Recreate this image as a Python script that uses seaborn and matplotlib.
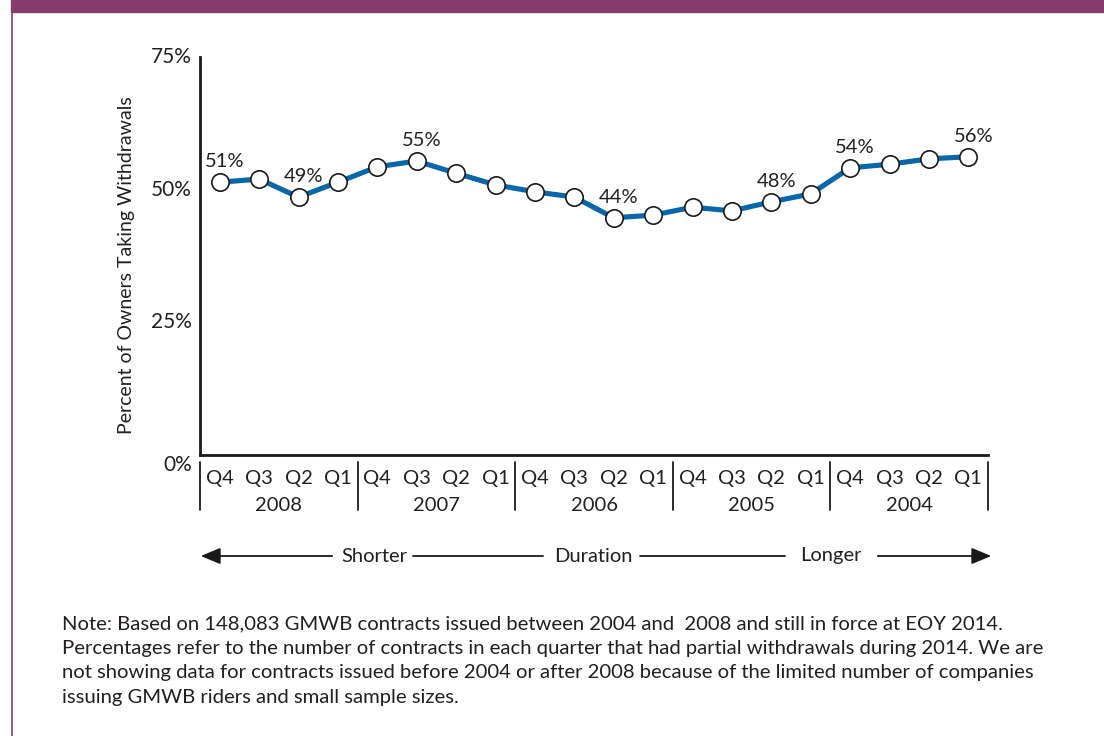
import matplotlib
matplotlib.use("Agg")
import matplotlib.pyplot as plt
import seaborn as sns
import pandas as pd
import numpy as np

# ---- data ----
quarters = ["Q4", "Q3", "Q2", "Q1"] * 5
years = ["2008", "2007", "2006", "2005", "2004"]
values = [51.4, 52.0, 48.6, 51.4, 54.3, 55.4, 53.1, 50.9, 49.6, 48.6,
          44.7, 45.2, 46.7, 46.0, 47.7, 49.2, 54.1, 54.8, 55.8, 56.2]
point_labels = {0: "51%", 2: "49%", 5: "55%", 10: "44%", 14: "48%", 16: "54%", 19: "56%"}
y_ticks = [0, 25, 50, 75]
y_tick_labels = ["0%", "25%", "50%", "75%"]
note = ("Note: Based on 148,083 GMWB contracts issued between 2004 and  2008 and still in force at EOY 2014.\n"
        "Percentages refer to the number of contracts in each quarter that had partial withdrawals during 2014. We are\n"
        "not showing data for contracts issued before 2004 or after 2008 because of the limited number of companies\n"
        "issuing GMWB riders and small sample sizes.")

sns.set_style("white")
FONT = ["Lato", "DejaVu Sans"]
plt.rcParams["font.family"] = FONT
TXT = "#231f20"
LINE = "#0767aa"
PURPLE = "#873d6c"

W, H = 1104, 736
fig = plt.figure(figsize=(W / 100, H / 100), dpi=100)
def fx(px): return px / W
def fy(py): return 1 - py / H

ax = fig.add_axes([fx(200), fy(455), fx(988) - fx(200), fy(57) - fy(455)])

df = pd.DataFrame({"idx": np.arange(len(values)), "val": values})
sns.lineplot(data=df, x="idx", y="val", ax=ax, color=LINE, linewidth=3.7,
             marker="o", markersize=12.5, markerfacecolor="white",
             markeredgecolor="#1a1a1a", markeredgewidth=1.2, zorder=3)

for i, lab in point_labels.items():
    ax.annotate(lab, (i, values[i]), xytext=(5, 12), textcoords="offset pixels",
                ha="center", va="bottom", fontsize=14.5, color=TXT)

ax.set_xlim(-0.5, len(values) - 0.5)
ax.set_ylim(0, 75)
ax.set_xlabel("")
ax.set_ylabel("Percent of Owners Taking Withdrawals", fontsize=14, color=TXT)
ax.yaxis.set_label_coords(-0.082, 0.477)

for s in ["top", "right"]:
    ax.spines[s].set_visible(False)
for s in ["left", "bottom"]:
    ax.spines[s].set_color("#1a1a1a")
    ax.spines[s].set_linewidth(2)

ax.set_yticks(y_ticks)
ax.set_yticklabels(y_tick_labels, fontsize=15, color=TXT)
ax.tick_params(axis="y", direction="in", length=10, width=1.5, color="#1a1a1a", pad=6)
for t in ax.get_yticklabels():
    t.set_verticalalignment("center")
ax.get_yticklabels()[0].set_verticalalignment("top")

ax.set_xticks(np.arange(len(values)))
ax.set_xticklabels(quarters, fontsize=14.5, color=TXT)
ax.tick_params(axis="x", which="major", length=0, pad=11)
ax.set_xticks(np.arange(len(values) + 1) - 0.5, minor=True)
ax.tick_params(axis="x", which="minor", direction="in", length=9, width=1.3, color="#1a1a1a")

trans = ax.get_xaxis_transform()
for k, yr in enumerate(years):
    ax.text(4 * k + 1.5, -0.128, yr, transform=trans, ha="center", va="center",
            fontsize=14.5, color=TXT)
for k in range(len(years) + 1):
    ax.plot([4 * k - 0.5, 4 * k - 0.5], [-0.0176, -0.138], transform=trans,
            color="#1a1a1a", lw=1.3, clip_on=False)

# duration arrow row
ay = fy(556)
fig.text(fx(374), ay, "Shorter", ha="center", va="center", fontsize=14.5, color=TXT)
fig.text(fx(593), ay, "Duration", ha="center", va="center", fontsize=14.5, color=TXT)
fig.text(fx(831), ay, "Longer", ha="center", va="center", fontsize=14.5, color=TXT)
fig.patches.append(matplotlib.patches.FancyArrowPatch(
    (fx(335), ay), (fx(198), ay), transform=fig.transFigure,
    arrowstyle="-|>,head_length=12,head_width=5", mutation_scale=1, color="#1a1a1a", lw=1.3))
fig.add_artist(plt.Line2D([fx(413), fx(543)], [ay, ay], transform=fig.transFigure,
                          color="#1a1a1a", lw=1.3))
fig.add_artist(plt.Line2D([fx(640), fx(785)], [ay, ay], transform=fig.transFigure,
                          color="#1a1a1a", lw=1.3))
fig.patches.append(matplotlib.patches.FancyArrowPatch(
    (fx(875), ay), (fx(994), ay), transform=fig.transFigure,
    arrowstyle="-|>,head_length=12,head_width=5", mutation_scale=1, color="#1a1a1a", lw=1.3))

# note
fig.text(fx(62), fy(615), note, ha="left", va="top", fontsize=14.6, color=TXT,
         linespacing=1.55)

# frame decoration
fig.patches.append(matplotlib.patches.Rectangle((fx(11), fy(12)), 1 - fx(11), fy(0) - fy(12),
                                                transform=fig.transFigure, color=PURPLE))
fig.add_artist(plt.Line2D([fx(12), fx(12)], [0, fy(12)], transform=fig.transFigure,
                          color=PURPLE, lw=1.2))

fig.savefig("out.png", dpi=100)
